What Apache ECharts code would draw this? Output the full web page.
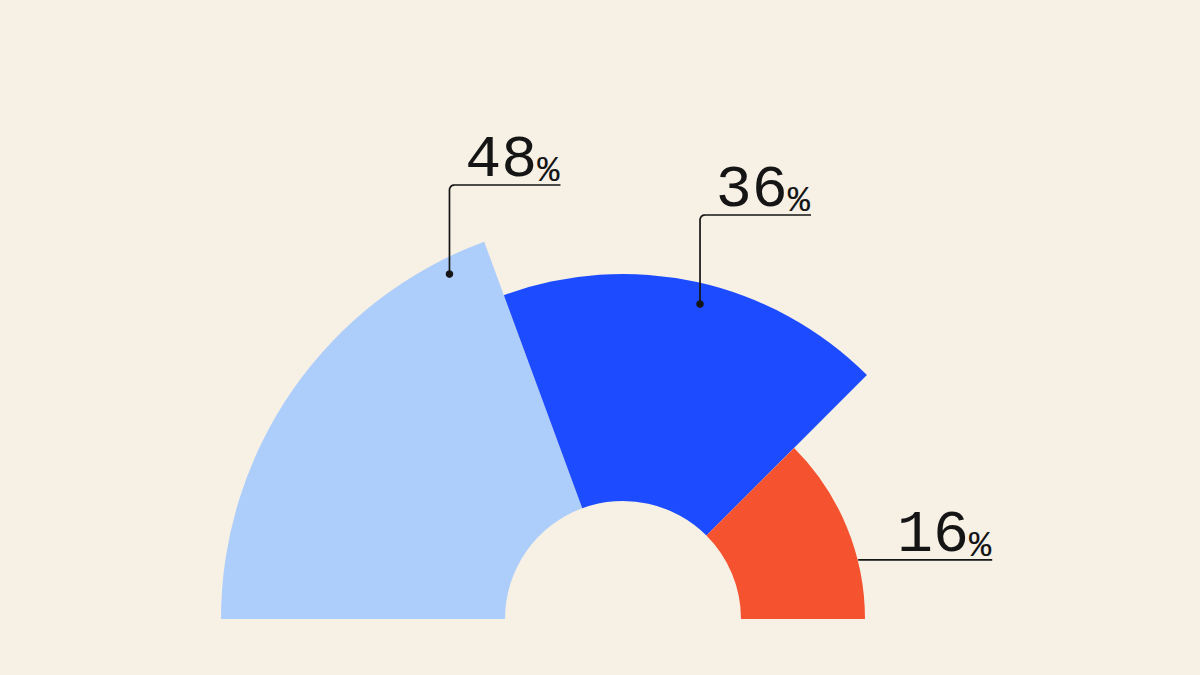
<!DOCTYPE html>
<html>
<head>
<meta charset="utf-8">
<script src="https://cdn.jsdelivr.net/npm/echarts@6/dist/echarts.min.js"></script>
<style>
html,body{margin:0;padding:0;background:#F6F0E5;}
#chart{width:1200px;height:675px;}
</style>
</head>
<body>
<div id="chart"></div>
<script>
// ---- data ----
const categories = ['Segment A', 'Segment B', 'Segment C'];
const values = [48, 36, 16];
const valueSuffix = '%';

// ---- styling / geometry (not data) ----
const colors = ['#ADCDFB', '#1D4BFF', '#F55330'];
const CX = 623, CY = 619, R0 = 118;
const sliceGeom = [
  { start: 180, end: 110.2, r: 402 },
  { start: 110.2, end: 45,  r: 345 },
  { start: 45,   end: 0,    r: 242 }
];
// leader anchors (polar: radius, angle in degrees), rise of the leader and its horizontal length
const leaders = [
  { r: 386.2, a: 116.7, rise: 89, len: 111, dot: true },
  { r: 324.3, a: 76.26, rise: 89, len: 111, dot: true },
  { r: 242.5, a: 14.1,  rise: 0,  len: 134, dot: false }
];
const INK = '#151515';

function polar(r, a) {
  const rad = a * Math.PI / 180;
  return [CX + r * Math.cos(rad), CY - r * Math.sin(rad)];
}
function leaderPts(i) {
  const L = leaders[i];
  const p = polar(L.r, L.a);
  const lineY = p[1] - L.rise;
  return { anchor: p, cornerX: p[0], lineY: lineY, endX: p[0] + L.len };
}

const chart = echarts.init(document.getElementById('chart'), null, { renderer: 'svg' });

const series = values.map(function (v, i) {
  const g = sliceGeom[i];
  const lp = leaderPts(i);
  return {
    type: 'pie',
    name: categories[i],
    z: 2,
    center: [CX, CY],
    radius: [R0, g.r],
    startAngle: g.start,
    endAngle: g.end,
    clockwise: true,
    avoidLabelOverlap: false,
    silent: true,
    animation: false,
    itemStyle: { color: colors[i] },
    label: {
      show: true,
      position: 'outside',
      formatter: function (p) { return '{n|' + p.value + '}{p|' + valueSuffix + '}'; },
      rich: {
        n: { fontFamily: 'Liberation Mono', fontSize: 60, color: INK, lineHeight: 60, verticalAlign: 'bottom' },
        p: { fontFamily: 'Liberation Mono', fontSize: 37, color: INK, lineHeight: 45, verticalAlign: 'bottom' }
      }
    },
    labelLine: { show: false },
    labelLayout: function () {
      return { x: lp.endX - 1, y: lp.lineY + 4.6, align: 'right', verticalAlign: 'bottom' };
    },
    data: [{ name: categories[i], value: v }]
  };
});

const graphics = [];
leaders.forEach(function (L, i) {
  const lp = leaderPts(i);
  const ax = lp.anchor[0], ay = lp.anchor[1];
  const pts = [[ax, ay]];
  if (L.rise > 0) {
    const rc = 5;
    const ccx = ax + rc, ccy = lp.lineY + rc;
    for (let k = 0; k <= 8; k++) {
      const t = Math.PI + (Math.PI / 2) * (k / 8);
      pts.push([ccx + rc * Math.cos(t), ccy + rc * Math.sin(t)]);
    }
  }
  pts.push([lp.endX, lp.lineY]);
  graphics.push({
    type: 'polyline',
    z: 100,
    shape: { points: pts },
    style: { fill: null, stroke: INK, lineWidth: 1.7 },
    silent: true
  });
  if (L.dot) {
    graphics.push({
      type: 'circle',
      z: 101,
      shape: { cx: ax, cy: ay, r: 3.8 },
      style: { fill: INK },
      silent: true
    });
  }
});

chart.setOption({
  backgroundColor: '#F6F0E5',
  animation: false,
  series: series,
  graphic: { elements: graphics }
});
</script>
</body>
</html>
